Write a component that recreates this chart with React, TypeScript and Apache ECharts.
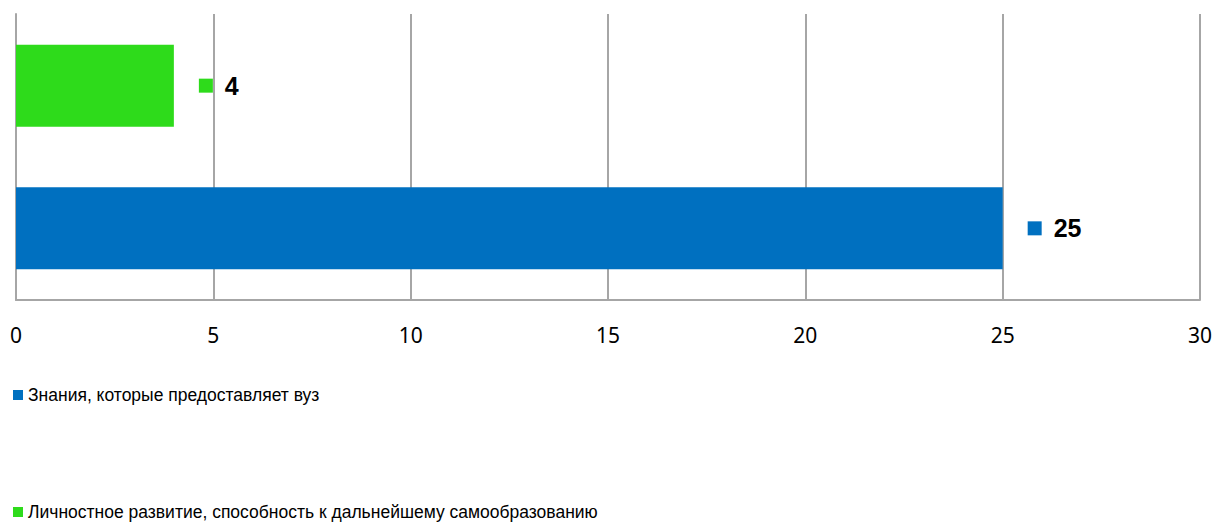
import React, { useEffect, useRef } from "react";
import * as echarts from "echarts";

const categories = [""];
const seriesNames = [
  "Знания, которые предоставляет вуз",
  "Личностное развитие, способность к дальнейшему самообразованию",
];
const knowledgeValues = [25];
const developmentValues = [4];
const seriesColors = ["#0070C0", "#2EDB1B"];
const xTicks = { min: 0, max: 30, interval: 5 };

const narrow = "'Liberation Sans Narrow', 'Arial Narrow', 'Liberation Sans', sans-serif";

export default function App() {
  const ref = useRef<HTMLDivElement>(null);
  useEffect(() => {
    if (!ref.current) return;
    const chart = echarts.init(ref.current, undefined, { renderer: "svg" });
    const mkLabel = (color: string) => ({
      show: true,
      position: "right",
      distance: 25,
      formatter: (p: any) => `{m|}{v|${p.value}}`,
      rich: {
        m: { width: 14, height: 14, backgroundColor: color },
        v: {
          fontFamily: narrow,
          fontWeight: "bold",
          fontSize: 25,
          color: "#000",
          padding: [0, 0, 0, 12],
        },
      },
    });
    const values = [knowledgeValues, developmentValues];
    const order = [1, 0];
    chart.setOption({
      animation: false,
      grid: { left: 16, right: 16, top: 14, bottom: 223, containLabel: false },
      legend: [0, 1].map((i) => ({
        data: [seriesNames[i]],
        left: 8,
        top: i === 0 ? 381 : 498,
        orient: "vertical",
        itemWidth: 10,
        itemHeight: 10,
        icon: "rect",
        selectedMode: false,
        textStyle: { fontFamily: narrow, fontSize: 17.5, color: "#000" },
      })),
      xAxis: {
        type: "value",
        min: xTicks.min,
        max: xTicks.max,
        interval: xTicks.interval,
        axisLine: { show: true, lineStyle: { color: "#a6a6a6", width: 2 } },
        axisTick: { show: false },
        splitLine: { show: true, lineStyle: { color: "#a6a6a6", width: 2 } },
        axisLabel: {
          fontFamily: "'Noto Sans', sans-serif",
          fontSize: 21,
          color: "#000",
          margin: 24,
        },
      },
      yAxis: {
        type: "category",
        data: categories,
        axisLine: { show: true, lineStyle: { color: "#a6a6a6", width: 2 } },
        axisTick: { show: false },
        axisLabel: { show: false },
        splitLine: { show: false },
      },
      series: order.map((i) => ({
        type: "bar",
        name: seriesNames[i],
        data: values[i],
        barWidth: 82,
        barGap: "74%",
        itemStyle: { color: seriesColors[i] },
        label: mkLabel(seriesColors[i]),
      })),
    });
    return () => chart.dispose();
  }, []);
  return (
    <div
      ref={ref}
      style={{ position: "fixed", left: 0, top: 0, width: 1216, height: 523, background: "#fff" }}
    />
  );
}
